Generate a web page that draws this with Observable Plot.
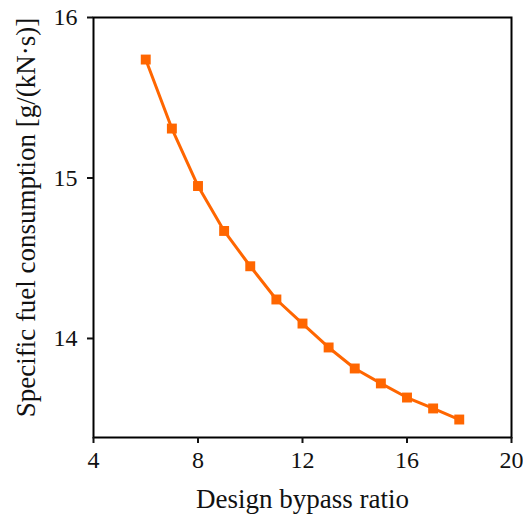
<!DOCTYPE html>
<html>
<head>
<meta charset="utf-8">
<script src="https://cdn.jsdelivr.net/npm/d3@7"></script>
<script src="https://cdn.jsdelivr.net/npm/@observablehq/plot@0.6"></script>
<style>
  html, body { margin: 0; padding: 0; background: #fff; }
  svg { display: block; }
</style>
</head>
<body>
<div id="chart"></div>
<script>
const bypassRatio = [6, 7, 8, 9, 10, 11, 12, 13, 14, 15, 16, 17, 18];
const sfc = [15.738, 15.308, 14.95, 14.67, 14.45, 14.243, 14.093, 13.944, 13.813, 13.72, 13.632, 13.564, 13.495];
const xTicks = [4, 8, 12, 16, 20];
const yTicks = [14, 15, 16];

const data = bypassRatio.map((x, i) => ({x, y: sfc[i]}));
const color = "#ff6600";
const font = "'Liberation Serif', 'DejaVu Serif', serif";

const chart = Plot.plot({
  width: 523,
  height: 515,
  marginLeft: 93,
  marginRight: 12,
  marginTop: 17,
  marginBottom: 78,
  style: {fontFamily: font, fontSize: "24px", color: "#111", background: "#fff"},
  x: {domain: [4, 20]},
  y: {domain: [13.383, 16]},
  marks: [
    Plot.frame({stroke: "#000", strokeWidth: 2}),
    Plot.axisX({ticks: xTicks, tickFormat: d3.format("d"), tickSize: 6, tickPadding: 7, strokeWidth: 2, label: "Design bypass ratio", labelAnchor: "center", labelArrow: "none", labelOffset: 70}),
    Plot.axisY({ticks: yTicks, tickFormat: d3.format("d"), tickSize: 6, tickPadding: 10, strokeWidth: 2, label: "Specific fuel consumption [g/(kN·s)]", labelAnchor: "center", labelArrow: "none", labelOffset: 78}),
    Plot.line(data, {x: "x", y: "y", stroke: color, strokeWidth: 3}),
    Plot.dot(data, {x: "x", y: "y", symbol: "square", r: 5.6, fill: color, stroke: "none"})
  ]
});
document.getElementById("chart").appendChild(chart);
chart.querySelectorAll("text").forEach(t => t.style.fontSize = "24px");
chart.querySelectorAll("g[aria-label='x-axis label'] text, g[aria-label='y-axis label'] text").forEach(t => t.style.fontSize = "27px");
const yl = chart.querySelector("g[aria-label='y-axis label']");
if (yl) {
  const tr = yl.getAttribute("transform") || "";
  yl.setAttribute("transform", "translate(0,-10) " + tr);
}
</script>
</body>
</html>
